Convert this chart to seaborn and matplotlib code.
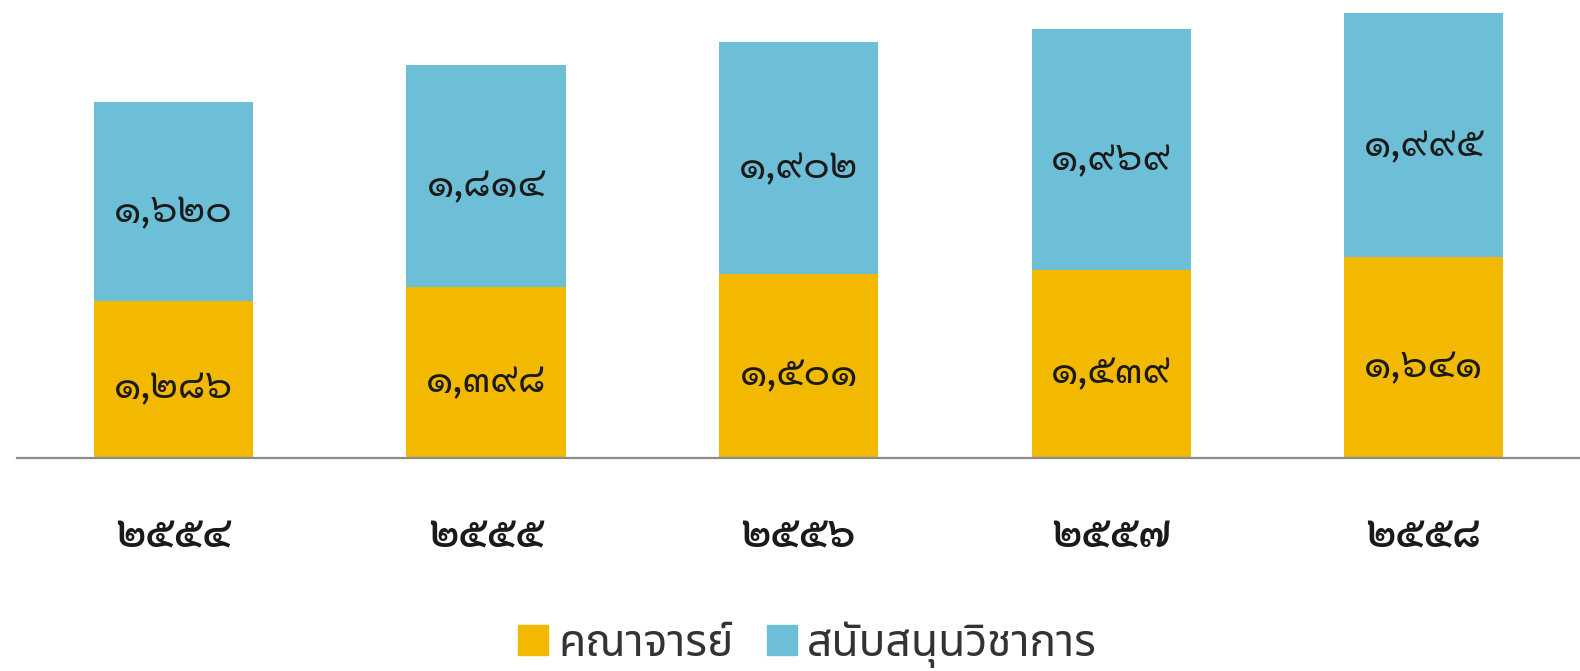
import matplotlib
matplotlib.use("Agg")
import matplotlib.pyplot as plt
import matplotlib.patches as mpatches
import pandas as pd
import seaborn as sns

# Academic years (Thai Buddhist era, Thai digits)
years = ["๒๕๕๔", "๒๕๕๕", "๒๕๕๖", "๒๕๕๗", "๒๕๕๘"]
faculty = [1286, 1398, 1501, 1539, 1641]
support = [1620, 1814, 1902, 1969, 1995]
series_names = ["คณาจารย์", "สนับสนุนวิชาการ"]

YELLOW = "#F2B900"
BLUE = "#6CBFD6"
THAI_DIGITS = str.maketrans("0123456789", "๐๑๒๓๔๕๖๗๘๙")


def thai_num(v):
    return f"{v:,}".translate(THAI_DIGITS)


df = pd.DataFrame({"year": years, "faculty": faculty, "support": support})
df["total"] = df["faculty"] + df["support"]

sns.set_theme(style="white")
plt.rcParams["font.family"] = ["Sarabun", "DejaVu Sans"]

fig = plt.figure(figsize=(15.8, 6.71), dpi=100)
ax = fig.add_axes([0.011, 0.317, 0.989, 0.683])

# stacked: draw totals first, then the lower series on top
sns.barplot(data=df, x="year", y="total", color=BLUE, width=0.51,
            saturation=1, ax=ax, edgecolor="none")
sns.barplot(data=df, x="year", y="faculty", color=YELLOW, width=0.51,
            saturation=1, ax=ax, edgecolor="none")

top_bars, bottom_bars = ax.containers[0], ax.containers[1]
ax.bar_label(bottom_bars, labels=[thai_num(v) for v in df["faculty"]],
             label_type="center", fontsize=29, fontweight="normal",
             color="#1a1a1a", padding=-6)
# support labels sit a little below the middle of the upper segment
for rect, f, s in zip(top_bars, df["faculty"], df["support"]):
    ax.text(rect.get_x() + rect.get_width() / 2, f + s / 2 - 80, thai_num(s),
            ha="center", va="center", fontsize=29, fontweight="normal",
            color="#1a1a1a")

ax.set_xlim(-0.5, 4.5)
ax.set_ylim(0, 3742)
ax.set_xlabel("")
ax.set_ylabel("")
ax.set_yticks([])
for side in ["top", "right", "left"]:
    ax.spines[side].set_visible(False)
ax.spines["bottom"].set_color("#8c8c8c")
ax.spines["bottom"].set_linewidth(1.6)
ax.tick_params(axis="x", length=0, pad=42)
for lbl in ax.get_xticklabels():
    lbl.set_fontsize(30)
    lbl.set_fontweight("semibold")
    lbl.set_color("#1a1a1a")

handles = [mpatches.Patch(color=YELLOW, label=series_names[0]),
           mpatches.Patch(color=BLUE, label=series_names[1])]
fig.legend(handles=handles, loc="center", bbox_to_anchor=(0.511, 0.04),
           ncol=2, frameon=False, handlelength=0.68, handleheight=0.68,
           handletextpad=0.22, columnspacing=0.75, labelcolor="#333333",
           prop={"family": ["Noto Sans Thai", "DejaVu Sans"], "size": 32,
                 "weight": "light"})

fig.savefig("out.png", dpi=100)
